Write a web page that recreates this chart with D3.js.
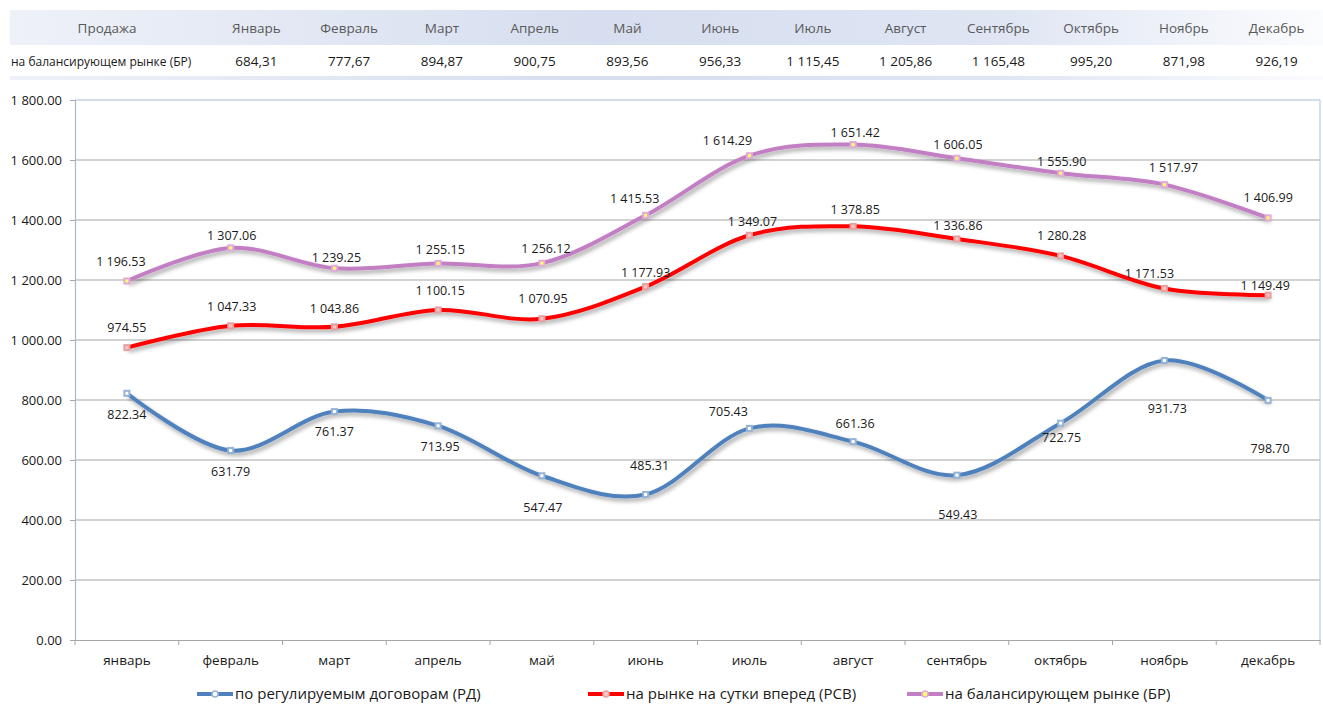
<!DOCTYPE html>
<html>
<head>
<meta charset="utf-8">
<script src="https://cdn.jsdelivr.net/npm/d3@7"></script>
<style>
  body { margin: 0; background: #fff; }
  svg { display: block; font-family: "Open Sans", "Noto Sans", sans-serif; }
</style>
</head>
<body>
<div id="chart"></div>
<script>
// data
var months = ["январь", "февраль", "март", "апрель", "май", "июнь", "июль", "август", "сентябрь", "октябрь", "ноябрь", "декабрь"];
var tableMonths = ["Январь", "Февраль", "Март", "Апрель", "Май", "Июнь", "Июль", "Август", "Сентябрь", "Октябрь", "Ноябрь", "Декабрь"];
var tableHead = "Продажа";
var tableRowName = "на балансирующем рынке (БР)";
var tableValues = [684.31, 777.67, 894.87, 900.75, 893.56, 956.33, 1115.45, 1205.86, 1165.48, 995.20, 871.98, 926.19];

var seriesNames = ["по регулируемым договорам (РД)", "на рынке на сутки вперед (РСВ)", "на балансирующем рынке (БР)"];
var rd = [822.34, 631.79, 761.37, 713.95, 547.47, 485.31, 705.43, 661.36, 549.43, 722.75, 931.73, 798.70];
var rsv = [974.55, 1047.33, 1043.86, 1100.15, 1070.95, 1177.93, 1349.07, 1378.85, 1336.86, 1280.28, 1171.53, 1149.49];
var br = [1196.53, 1307.06, 1239.25, 1255.15, 1256.12, 1415.53, 1614.29, 1651.42, 1606.05, 1555.90, 1517.97, 1406.99];
var yTicks = [0, 200, 400, 600, 800, 1000, 1200, 1400, 1600, 1800];

// data label nudges (px) as placed in the original
var rdLabelDx = [0, 0, 0, 2, 1, 4, -21, 2, 1, 1, 3, 2];
var rdLabelDy = [21, 21, 20, 21, 32, -29, -17, -18, 39, 14, 48, 48];
var rsvLabelDx = [0, 1, 0, 2, 1, 0, 3, 2, 1, 1, -15, -3];
var rsvLabelDy = [-20, -19, -18, -19, -20, -14, -14, -17, -13, -20, -15, -10];
var brLabelDx = [-6, 1, 2, 2, 4, -11, -22, 2, 1, 1, 9, 0];
var brLabelDy = [-19, -12, -11, -14, -15, -17, -15, -12, -14, -12, -17, -20];

// size
var width = 1323;
var height = 704;
var plot = {left: 75, right: 1320, top: 100, bottom: 640};

var svg = d3.select("#chart")
            .append("svg")
            .attr("width", width)
            .attr("height", height);

// number formats
var fmtChart = d3.formatLocale({decimal: ".", thousands: " ", grouping: [3], currency: ["", ""]}).format(",.2f");
var fmtTable = d3.formatLocale({decimal: ",", thousands: " ", grouping: [3], currency: ["", ""]}).format(",.2f");

var defs = svg.append("defs");
var grad = defs.append("linearGradient").attr("id", "headGrad");
grad.append("stop").attr("offset", "0%").attr("stop-color", "#eef1f8");
grad.append("stop").attr("offset", "45%").attr("stop-color", "#d6deef");
grad.append("stop").attr("offset", "75%").attr("stop-color", "#dfe5f3");
grad.append("stop").attr("offset", "100%").attr("stop-color", "#fbfcfe");

var shadow = defs.append("filter").attr("id", "shadow")
                 .attr("x", "-5%").attr("y", "-20%").attr("width", "110%").attr("height", "140%");
shadow.append("feDropShadow")
      .attr("dx", 2).attr("dy", 3).attr("stdDeviation", 2)
      .attr("flood-color", "#000").attr("flood-opacity", 0.35);

// ---- table ----
var tx = d3.scaleBand().domain(d3.range(12)).range([210, 1323]);

svg.append("rect")
   .attr("x", 10).attr("y", 10).attr("width", 1313).attr("height", 35)
   .attr("fill", "url(#headGrad)");
svg.append("rect")
   .attr("x", 10).attr("y", 76).attr("width", 1313).attr("height", 4)
   .attr("fill", "url(#headGrad)");

svg.append("text")
   .attr("x", 107).attr("y", 33)
   .attr("text-anchor", "middle")
   .attr("font-size", 13.5).attr("fill", "#595959")
   .text(tableHead);

svg.selectAll("text.thead")
   .data(tableMonths)
   .enter()
   .append("text")
   .attr("class", "thead")
   .attr("x", function(d, i) {return tx(i) + tx.bandwidth() / 2;})
   .attr("y", 33)
   .attr("text-anchor", "middle")
   .attr("font-size", 13.5).attr("fill", "#595959")
   .text(function(d) {return d;});

svg.append("text")
   .attr("x", 11).attr("y", 66)
   .attr("font-size", 12).attr("fill", "#1a1a1a")
   .text(tableRowName);

svg.selectAll("text.tval")
   .data(tableValues)
   .enter()
   .append("text")
   .attr("class", "tval")
   .attr("x", function(d, i) {return tx(i) + tx.bandwidth() / 2;})
   .attr("y", 66)
   .attr("text-anchor", "middle")
   .attr("font-size", 13.5).attr("fill", "#1a1a1a")
   .text(function(d) {return fmtTable(d);});

// ---- chart ----
var x = d3.scaleBand().domain(months).range([plot.left, plot.right]);
var y = d3.scaleLinear().domain([0, 1800]).range([plot.bottom, plot.top]);

// gridlines
svg.selectAll("line.grid")
   .data(yTicks.slice(1, -1))
   .enter()
   .append("line")
   .attr("class", "grid")
   .attr("x1", plot.left).attr("x2", plot.right)
   .attr("y1", function(d) {return y(d);})
   .attr("y2", function(d) {return y(d);})
   .attr("stroke", "#a6a6a6").attr("stroke-width", 1.2);

// plot border top / right
svg.append("line")
   .attr("x1", plot.left).attr("x2", plot.right)
   .attr("y1", plot.top).attr("y2", plot.top)
   .attr("stroke", "#a9bcd8").attr("stroke-width", 1.2);
svg.append("line")
   .attr("x1", plot.right).attr("x2", plot.right)
   .attr("y1", plot.top).attr("y2", plot.bottom)
   .attr("stroke", "#b8cce4").attr("stroke-width", 1.2);

// y axis
var yAxis = svg.append("g")
               .attr("transform", "translate(" + plot.left + ",0)")
               .call(d3.axisLeft(y).tickValues(yTicks).tickFormat(fmtChart).tickSize(5).tickPadding(8));
yAxis.select(".domain").attr("stroke", "#a6b6cf").attr("stroke-width", 1.2);
yAxis.selectAll(".tick line").attr("stroke", "#a6a6a6");
yAxis.selectAll("text").attr("font-size", 13).attr("fill", "#1a1a1a")
     .attr("font-family", "'Open Sans', sans-serif");

// x axis
var xAxis = svg.append("g")
               .attr("transform", "translate(0," + plot.bottom + ")")
               .call(d3.axisBottom(x).tickSize(0).tickPadding(15));
xAxis.select(".domain").attr("stroke", "#a6a6a6").attr("stroke-width", 1.2);
xAxis.selectAll("text").attr("font-size", 13.5).attr("fill", "#1a1a1a")
     .attr("font-family", "'Open Sans', sans-serif");
svg.selectAll("line.xtick")
   .data(months.concat(["end"]))
   .enter()
   .append("line")
   .attr("class", "xtick")
   .attr("x1", function(d, i) {return plot.left + i * x.bandwidth();})
   .attr("x2", function(d, i) {return plot.left + i * x.bandwidth();})
   .attr("y1", plot.bottom).attr("y2", plot.bottom + 5)
   .attr("stroke", "#a6a6a6");

// series
var series = [
  {name: seriesNames[0], values: rd, dx: rdLabelDx, dy: rdLabelDy, color: "#4f81bd", mark: "#95b3d7", core: "#ffffff"},
  {name: seriesNames[1], values: rsv, dx: rsvLabelDx, dy: rsvLabelDy, color: "#ff0000", mark: "#e6a0a0", core: "#f2c4c4"},
  {name: seriesNames[2], values: br, dx: brLabelDx, dy: brLabelDy, color: "#c27fc4", mark: "#e3a9d8", core: "#ffff66"}
];

var line = d3.line()
             .x(function(d, i) {return x(months[i]) + x.bandwidth() / 2;})
             .y(function(d) {return y(d);})
             .curve(d3.curveCardinal);

series.forEach(function(s) {
  var g = svg.append("g");
  g.append("path")
   .attr("d", line(s.values))
   .attr("fill", "none")
   .attr("stroke", s.color)
   .attr("stroke-width", 4)
   .attr("filter", "url(#shadow)");
  g.selectAll("rect.mk")
   .data(s.values)
   .enter()
   .append("rect")
   .attr("class", "mk")
   .attr("x", function(d, i) {return x(months[i]) + x.bandwidth() / 2 - 3.5;})
   .attr("y", function(d) {return y(d) - 3.5;})
   .attr("width", 7).attr("height", 7)
   .attr("fill", s.mark);
  g.selectAll("rect.core")
   .data(s.values)
   .enter()
   .append("rect")
   .attr("class", "core")
   .attr("x", function(d, i) {return x(months[i]) + x.bandwidth() / 2 - 1.5;})
   .attr("y", function(d) {return y(d) - 1.5;})
   .attr("width", 3).attr("height", 3)
   .attr("fill", s.core);
  g.selectAll("text.lbl")
   .data(s.values)
   .enter()
   .append("text")
   .attr("class", "lbl")
   .attr("x", function(d, i) {return x(months[i]) + x.bandwidth() / 2 + s.dx[i];})
   .attr("y", function(d, i) {return y(d) + s.dy[i];})
   .attr("dy", "0.35em")
   .attr("text-anchor", "middle")
   .attr("font-size", 12.5).attr("fill", "#1a1a1a")
   .text(function(d) {return fmtChart(d);});
});

// legend
var legendX = [197, 588, 907];
var legend = svg.selectAll("g.legend")
                .data(series)
                .enter()
                .append("g")
                .attr("class", "legend")
                .attr("transform", function(d, i) {return "translate(" + legendX[i] + ",694)";});
legend.append("line")
      .attr("x1", 0).attr("x2", 36)
      .attr("stroke", function(d) {return d.color;})
      .attr("stroke-width", 4);
legend.append("circle")
      .attr("cx", 18).attr("r", 3)
      .attr("fill", function(d) {return d.core;})
      .attr("stroke", function(d) {return d.mark;})
      .attr("stroke-width", 1.5);
legend.append("text")
      .attr("x", 38).attr("dy", "0.35em")
      .attr("font-size", 15).attr("fill", "#1a1a1a")
      .text(function(d) {return d.name;});
</script>
</body>
</html>
